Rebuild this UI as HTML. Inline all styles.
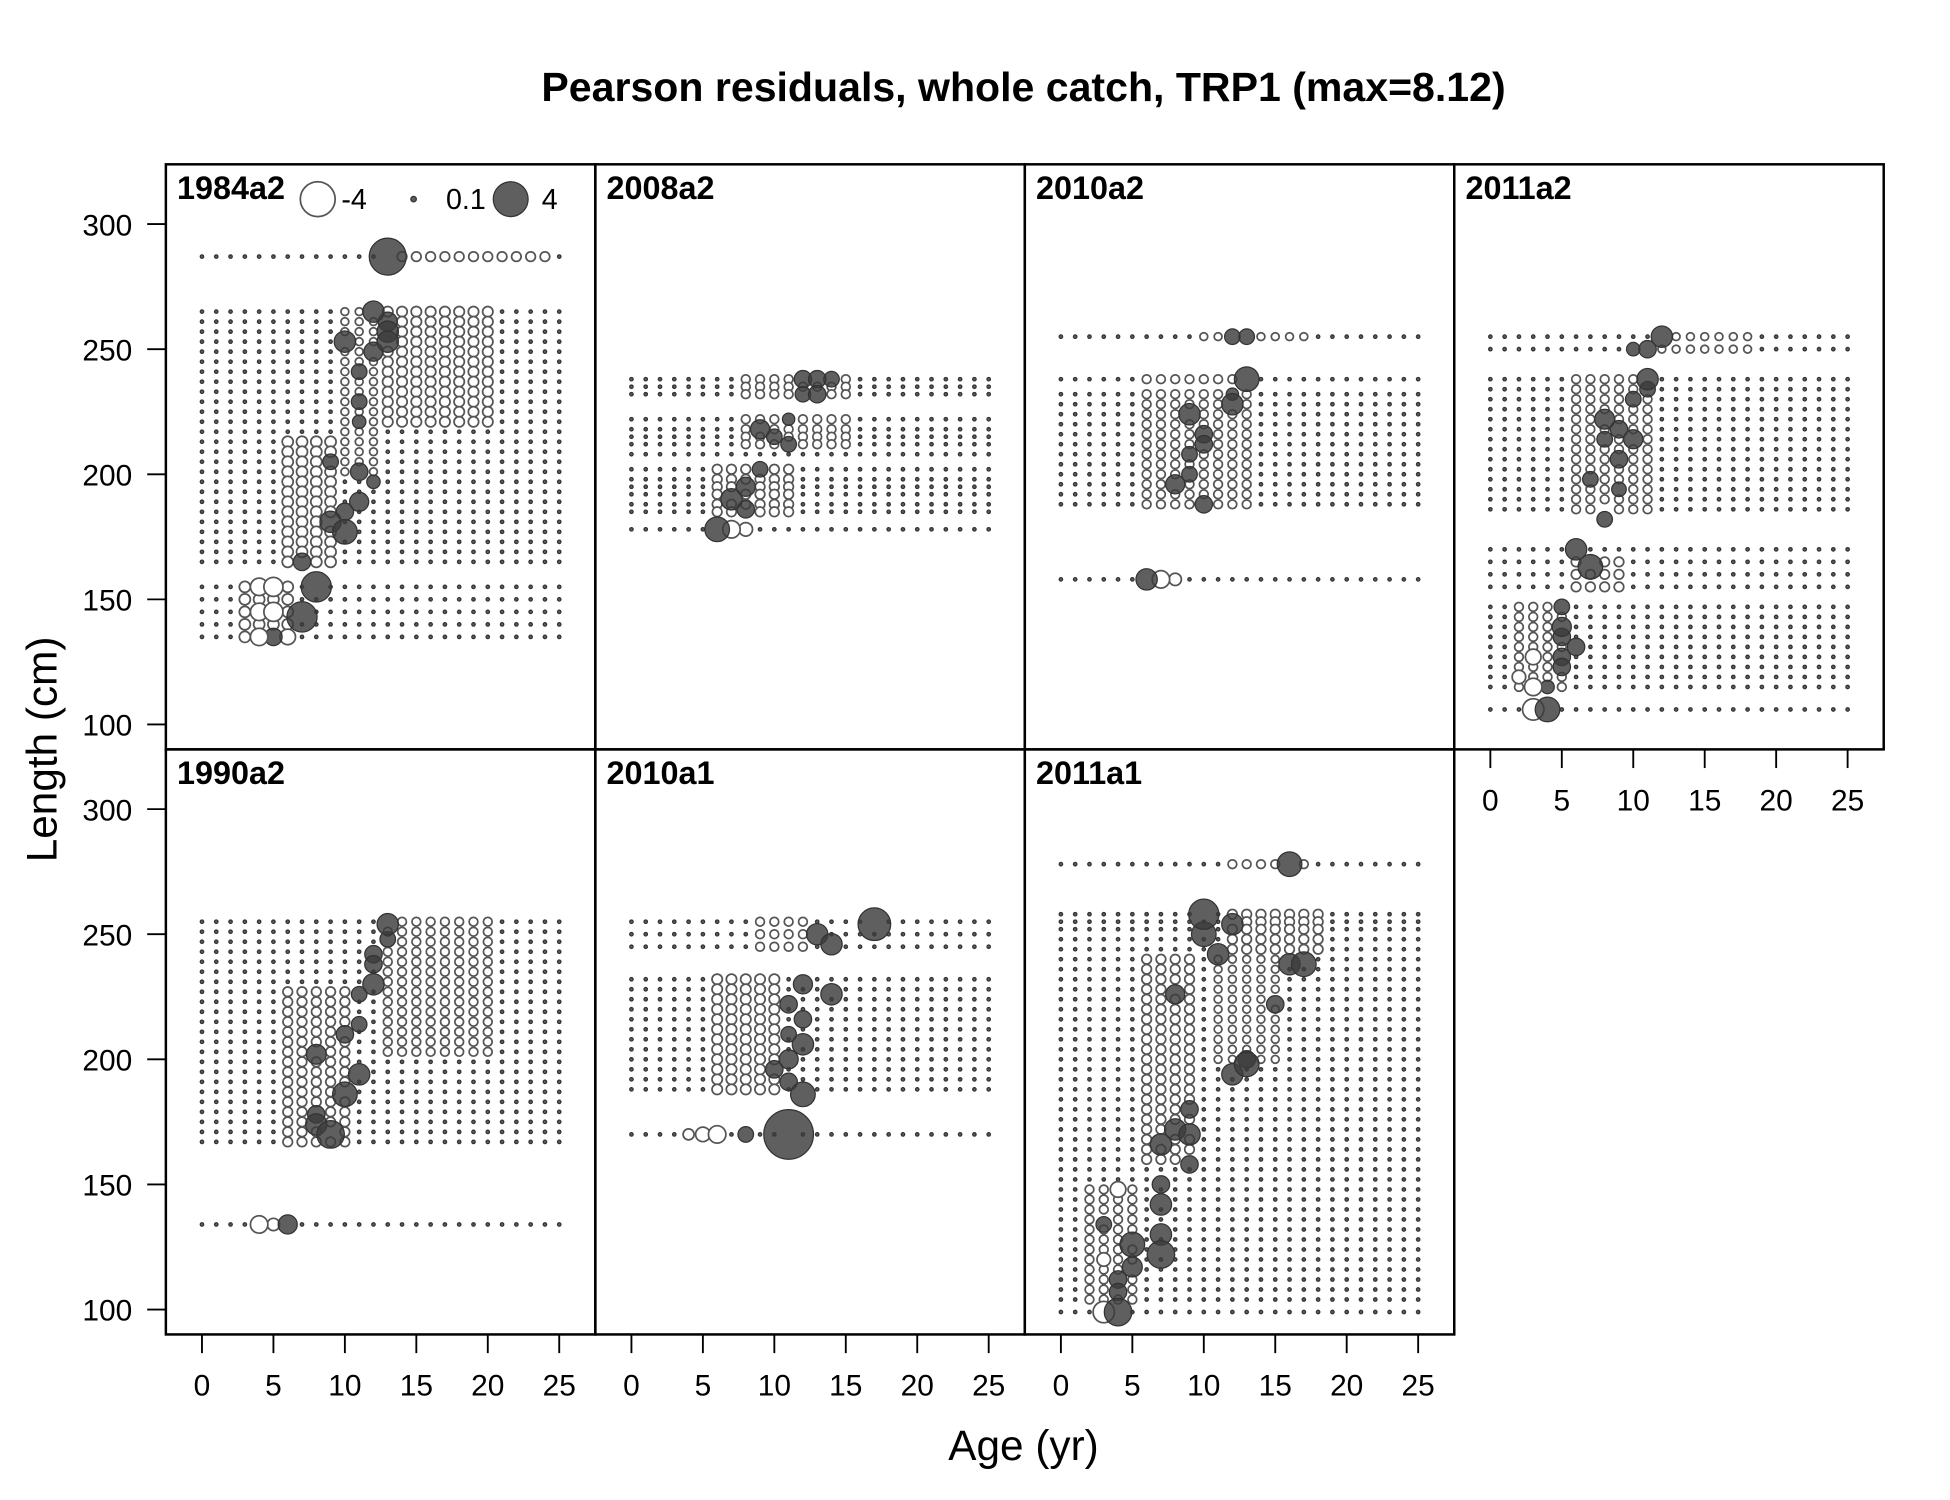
<!DOCTYPE html>
<html><head><meta charset="utf-8"><style>
html,body{margin:0;padding:0;background:#fff}
svg{display:block}
text{font-family:"Liberation Sans",Arial,sans-serif}
</style></head><body>
<svg id="chart" xmlns="http://www.w3.org/2000/svg" width="1950" height="1500" viewBox="0 0 1566 1205">
<rect x="0" y="0" width="1566" height="1205" fill="#fff"/>
<text x="822" y="81" text-anchor="middle" font-size="33" font-weight="bold">Pearson residuals, whole catch, TRP1 (max=8.12)</text>
<text transform="translate(45,602) rotate(-90)" text-anchor="middle" font-size="34">Length (cm)</text>
<text x="822" y="1173" text-anchor="middle" font-size="34">Age (yr)</text>
<g id="plots"></g>
</svg>
<script>
// ---- data ----
const panelLabels = ["1984a2","2008a2","2010a2","2011a2","1990a2","2010a1","2011a1"];
const panelPos = [[0,0],[1,0],[2,0],[3,0],[0,1],[1,1],[2,1]];
function seq(a,b,s){const o=[];for(let v=a;v>=b-0.001;v-=s)o.push(v);return o;}
const rows1984 = [287].concat(seq(265,165,4),[155,150,145,140,135]);
const rows2008 = [238,235,232,222,218,215,212,208,202,198,195,192,188,185,178];
const rows2010a2 = [255,238,232].concat(seq(228,185,4),[158]);
const rows2011a2 = [255,250].concat(seq(238,185,4),[170,165,160,155],seq(147,115,4),[106]);
const rows1990 = seq(255,165,4).concat([134]);
const rows2010a1 = [255,250,245].concat(seq(232,188,4),[170]);
const rows2011a1 = [278,258,255,252,248,244].concat(seq(240,160,4),[156],seq(152,102,4),[99]);
const panelRows = [rows1984,rows2008,rows2010a2,rows2011a2,rows1990,rows2010a1,rows2011a1];
const ageMin = 0, ageMax = 25, baseResid = 0.04;
// bands: [ageFrom, ageTo, lenFrom, lenTo, value]
const bands1984 = [[13,20,220,266,-0.35],[6,9,165,215,-0.4],[10,12,200,266,-0.2],[14,24,287,287,-0.3],[3,6,135,155,-0.4]];
const bands2008 = [[8,15,210,240,-0.25],[6,11,185,202,-0.3]];
const bands2010a2 = [[6,13,185,238,-0.25],[10,17,255,255,-0.2]];
const bands2011a2 = [[2,5,115,147,-0.25],[6,11,172,238,-0.25],[6,9,155,165,-0.3],[12,18,250,255,-0.2]];
const bands1990 = [[6,10,165,230,-0.3],[13,20,200,255,-0.25]];
const bands2010a1 = [[6,10,188,232,-0.35],[9,12,245,255,-0.25]];
const bands2011a1 = [[2,5,100,150,-0.25],[6,9,160,240,-0.3],[12,18,244,258,-0.3],[11,15,200,240,-0.2],[12,17,278,278,-0.25]];
const panelBands = [bands1984,bands2008,bands2010a2,bands2011a2,bands1990,bands2010a1,bands2011a1];
// points: [age, length, residual]
const pts1984 = [[13,287,4.5],[12,265,1.5],[13,261,1.2],[13,257,1.5],[13,253,1.5],[10,253,1.5],[12,249,1.2],[11,241,0.8],[11,229,0.8],[11,221,0.6],[9,205,0.8],[11,201,1],[12,197,0.6],[11,189,1.2],[10,185,1],[9,181,1.5],[10,177,2],[7,165,1],[8,155,3],[7,143,3],[5,135,1],[5,155,-1.2],[4,155,-1],[5,145,-1.2],[4,145,-1],[4,135,-1],[6,135,-0.8]];
const pts2008 = [[12,238,1],[13,238,1],[14,238,0.8],[13,232,1],[12,232,0.8],[9,218,1.2],[10,215,0.8],[11,212,0.8],[11,222,0.5],[9,202,0.8],[8,195,1.2],[7,190,1.5],[8,186,1],[6,178,2],[7,178,-1],[8,178,-0.6]];
const pts2010a2 = [[12,255,0.8],[13,255,0.8],[13,238,2],[12,232,0.5],[12,228,1.5],[9,224,1.5],[10,216,1],[10,212,1],[9,208,0.8],[9,200,0.8],[8,196,1.2],[10,188,1],[6,158,1.5],[7,158,-1],[8,158,-0.5]];
const pts2011a2 = [[12,255,1.5],[11,250,1],[10,250,0.6],[11,238,1.5],[11,234,0.8],[10,230,0.8],[8,222,1.3],[9,218,1],[8,214,0.8],[9,206,1],[10,214,1.2],[7,198,0.8],[9,194,0.7],[8,182,0.8],[6,170,1.5],[7,163,2],[5,147,0.8],[5,139,1.2],[5,135,1],[6,131,1],[5,127,1],[5,123,1],[4,115,0.6],[4,106,2],[3,106,-1.5],[3,115,-1],[2,119,-0.6],[3,127,-0.8]];
const pts1990 = [[13,254,1.5],[13,248,0.8],[12,242,1],[12,238,1],[12,230,1.5],[11,226,0.8],[11,214,0.8],[10,210,1],[8,202,1.3],[11,194,1.5],[10,186,2],[8,178,1],[8,174,1.5],[9,170,2.5],[6,134,1.2],[4,134,-1],[5,134,-0.5]];
const pts2010a1 = [[17,254,3.5],[13,250,1.5],[14,246,1.5],[12,230,1.2],[14,226,1.5],[11,222,1],[12,216,1],[11,210,0.8],[12,206,1.5],[11,200,1.2],[10,196,1],[11,191,1],[12,186,2],[11,170,8.12],[8,170,0.8],[6,170,-1],[5,170,-0.7],[4,170,-0.4]];
const pts2011a1 = [[16,278,2],[10,258,3],[10,250,2],[12,254,1.5],[11,242,1.5],[17,238,2],[16,238,1.5],[8,226,1.2],[15,222,1],[13,200,1],[13,198,2],[12,194,1.5],[9,180,1],[8,172,1.5],[7,166,1.5],[9,170,1.5],[9,158,1],[7,150,1],[7,142,1.5],[7,130,1.5],[7,122,2.5],[5,126,2],[5,117,1.3],[4,112,1],[4,107,1],[4,99,2.5],[3,134,0.8],[3,99,-1.5],[4,148,-0.8],[3,120,-0.6]];
const panelPts = [pts1984,pts2008,pts2010a2,pts2011a2,pts1990,pts2010a1,pts2011a1];
const yTicks = [100,150,200,250,300];
const xTicks = [0,5,10,15,20,25];
const legendVals = [-4,0.1,4];

// ---- layout ----
const NS="http://www.w3.org/2000/svg";
const g=document.getElementById('plots');
const PW=345, PH=470, L0=133, T0=132;
function xScale(col,a){return L0+PW*col+29+a*11.48;}
function yScale(row,len){return T0+PH*row+48+(300-len)*2.01;}
function rad(v){return 14*Math.sqrt(Math.abs(v)/4);}
function mk(tag,attrs,parent){const e=document.createElementNS(NS,tag);for(const k in attrs)e.setAttribute(k,attrs[k]);(parent||g).appendChild(e);return e;}
function bubble(cx,cy,v,parent){
  const c=mk('circle',{cx:cx,cy:cy,r:Math.max(rad(v),1.1)},parent);
  if(v<0){c.setAttribute('fill','#fff');c.setAttribute('stroke','#555');c.setAttribute('stroke-width',rad(v)<3?1.1:1.4);}
  else{c.setAttribute('fill','rgba(60,60,60,0.82)');c.setAttribute('stroke','#333');c.setAttribute('stroke-width',1);}
  return c;
}
panelLabels.forEach((lab,i)=>{
  const [col,row]=panelPos[i];
  const pg=mk('g',{});
  
  
  const grid={};
  panelRows[i].forEach(len=>{for(let a=ageMin;a<=ageMax;a++)grid[a+'_'+len]=baseResid;});
  panelBands[i].forEach(b=>{panelRows[i].forEach(len=>{if(len>=b[2]&&len<=b[3])for(let a=b[0];a<=b[1];a++)grid[a+'_'+len]=b[4];});});
  panelPts[i].forEach(p=>{
    let best=panelRows[i][0];panelRows[i].forEach(r=>{if(Math.abs(r-p[1])<Math.abs(best-p[1]))best=r;});
    delete grid[p[0]+'_'+best];
  });
  for(const k in grid){const [a,len]=k.split('_').map(Number);
    const c=bubble(xScale(col,a),yScale(row,len),grid[k],pg);
    
    }
  panelPts[i].slice().sort((p,q)=>Math.abs(p[2])-Math.abs(q[2])).forEach(p=>{
    const c=bubble(xScale(col,p[0]),yScale(row,p[1]),p[2],pg);
    
    });
  const fr=mk('rect',{x:L0+PW*col,y:T0+PH*row,width:PW,height:PH,fill:'none',stroke:'#000','stroke-width':2},pg);
  
  
  const t=mk('text',{x:L0+PW*col+9,y:T0+PH*row+28,'font-size':26,'font-weight':'bold'},pg);
  t.textContent=lab;
  
  
});
// y axes
[0,1].forEach(row=>{
  yTicks.forEach(v=>{
    const y=yScale(row,v);
    mk('line',{x1:L0-15,x2:L0,y1:y,y2:y,stroke:'#000','stroke-width':1.5});
    const t=mk('text',{x:106,y:y+9,'text-anchor':'end','font-size':24});
    t.textContent=v;
    
    
  });
});
// x axes
[[0,1],[1,1],[2,1],[3,0]].forEach(([col,row])=>{
  const yb=T0+PH*(row+1);
  mk('line',{x1:xScale(col,0),x2:xScale(col,25),y1:yb,y2:yb,stroke:'#000','stroke-width':1.5});
  xTicks.forEach(v=>{
    const x=xScale(col,v);
    mk('line',{x1:x,x2:x,y1:yb,y2:yb+15,stroke:'#000','stroke-width':1.5});
    const t=mk('text',{x:x,y:yb+49,'text-anchor':'middle','font-size':24});
    t.textContent=v;
    
    
  });
});
// legend
const lg=mk('g',{});


const legX=[255,332,410], legTX=[274,358,435];
legendVals.forEach((v,k)=>{
  bubble(legX[k],160,v,lg);
  const t=mk('text',{x:legTX[k],y:168,'font-size':23},lg);
  t.textContent=v;
  
  
});
</script>
</body></html>
